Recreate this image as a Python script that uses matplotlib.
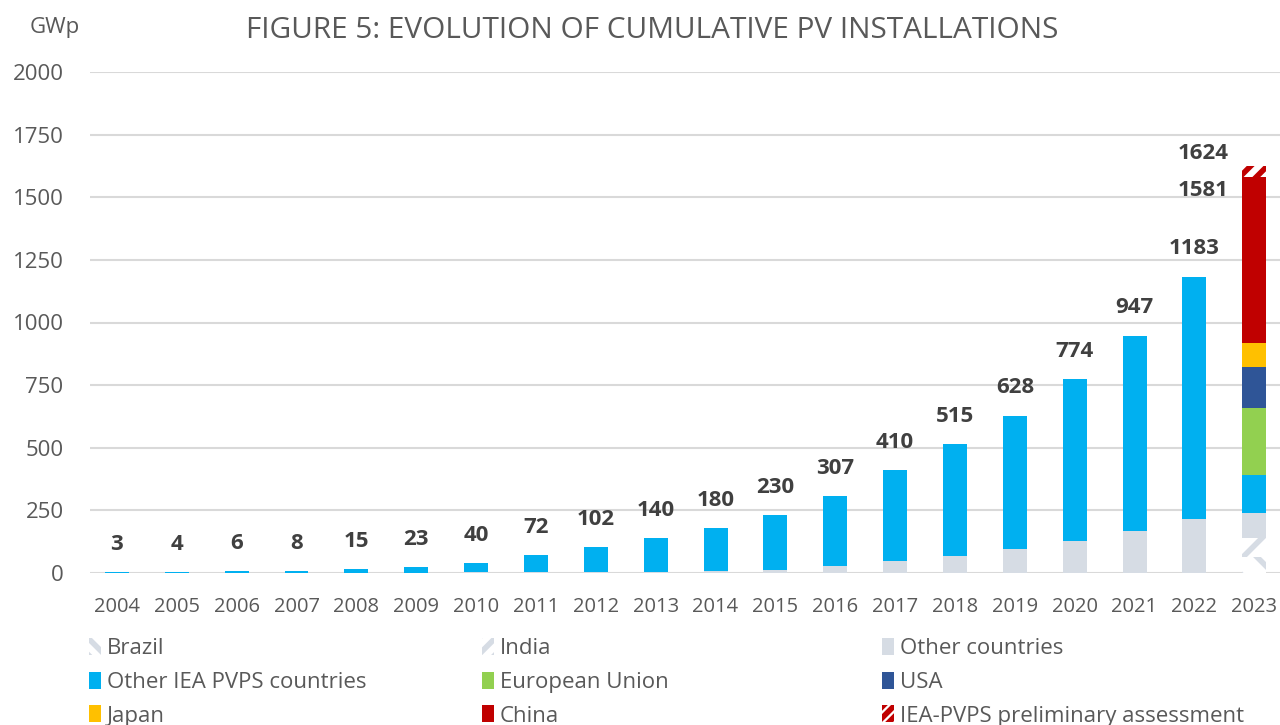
import matplotlib
matplotlib.use("Agg")
import matplotlib.pyplot as plt
from matplotlib.patches import Patch
import numpy as np

plt.rcParams["font.family"] = ["Open Sans", "DejaVu Sans"]
plt.rcParams["hatch.linewidth"] = 4

# --- data (GWp, cumulative) ---
years = [str(y) for y in range(2004, 2024)]
totals = [3, 4, 6, 8, 15, 23, 40, 72, 102, 140, 180, 230, 307, 410, 515, 628, 774, 947, 1183]
other_countries = [0, 0, 0.5, 0.5, 1, 1, 2, 3, 4, 5, 8, 12, 28, 47, 68, 97, 129, 168, 215]

# 2023 split by country group
brazil_23 = 65
india_23 = 75
other_countries_23 = 100
other_iea_23 = 151
eu_23 = 268
usa_23 = 163
japan_23 = 96
china_23 = 663
prelim_23 = 43

C_GREY = "#D6DCE4"
C_BLUE = "#00B0F0"
C_GREEN = "#92D050"
C_USA = "#2F5597"
C_JAPAN = "#FFC000"
C_CHINA = "#C00000"
C_TEXT = "#404040"
C_TICK = "#595959"

fig = plt.figure(figsize=(12.8, 7.25), dpi=100)
ax = fig.add_axes([90 / 1280, 1 - 573 / 725, 1 - 90 / 1280, (573 - 72) / 725])

x = np.arange(len(years))
w = 0.4
hist = x[:-1]
grey = np.array(other_countries)
iea = np.array(totals) - grey

ax.bar(hist, grey, w, color=C_GREY, zorder=2)
ax.bar(hist, iea, w, bottom=grey, color=C_BLUE, zorder=2)

# 2023 stack
i23 = x[-1]
stack_23 = [
    (brazil_23, "white", C_GREY, "\\"),
    (india_23, "white", C_GREY, "/"),
    (other_countries_23, C_GREY, None, None),
    (other_iea_23, C_BLUE, None, None),
    (eu_23, C_GREEN, None, None),
    (usa_23, C_USA, None, None),
    (japan_23, C_JAPAN, None, None),
    (china_23, C_CHINA, None, None),
    (prelim_23, "white", C_CHINA, "//"),
]
bottom = 0
for val, fc, hc, hatch in stack_23:
    if hatch:
        ax.bar(i23, val, w, bottom=bottom, color=fc, edgecolor=hc, hatch=hatch,
               linewidth=0, zorder=2)
    else:
        ax.bar(i23, val, w, bottom=bottom, color=fc, linewidth=0, zorder=2)
    bottom += val
total_23 = bottom - prelim_23
prelim_top = bottom

# value labels
for xi, t in zip(hist, totals):
    ax.annotate(f"{t}", (xi, t), xytext=(0, 20), textcoords="offset points",
                ha="center", va="center", fontsize=16, fontweight="bold", color=C_TEXT)
ax.annotate(f"{prelim_top}", (i23, prelim_top), xytext=(-37, 9), textcoords="offset points",
            ha="center", va="center", fontsize=16, fontweight="bold", color=C_TEXT)
ax.annotate(f"{total_23}", (i23, total_23), xytext=(-37, -10), textcoords="offset points",
            ha="center", va="center", fontsize=16, fontweight="bold", color=C_TEXT)

ax.set_xlim(-0.45, len(years) - 1 + 0.43)
ax.set_ylim(0, 2000)
ax.set_yticks(range(0, 2001, 250))
ax.set_xticks(x)
ax.set_xticklabels(years)
ax.tick_params(axis="y", length=0, pad=19, labelsize=16, labelcolor=C_TICK)
ax.tick_params(axis="x", length=0, pad=17, labelsize=14.5, labelcolor=C_TICK)
ax.grid(axis="y", color="#D9D9D9", lw=1.5, zorder=0)
for s in ax.spines.values():
    s.set_visible(False)

fig.text(30 / 1280, 1 - 28 / 725, "GWp", fontsize=16, color=C_TICK, va="center", ha="left")
fig.text(652 / 1280, 1 - 30 / 725, "FIGURE 5: EVOLUTION OF CUMULATIVE PV INSTALLATIONS",
         fontsize=21.4, color=C_TICK, va="center", ha="center")

# legend, one column at a time
cols = [
    [Patch(facecolor="white", edgecolor=C_GREY, hatch="\\\\", linewidth=0, label="Brazil"),
     Patch(facecolor=C_BLUE, label="Other IEA PVPS countries"),
     Patch(facecolor=C_JAPAN, label="Japan")],
    [Patch(facecolor="white", edgecolor=C_GREY, hatch="//", linewidth=0, label="India"),
     Patch(facecolor=C_GREEN, label="European Union"),
     Patch(facecolor=C_CHINA, label="China")],
    [Patch(facecolor=C_GREY, label="Other countries"),
     Patch(facecolor=C_USA, label="USA"),
     Patch(facecolor="white", edgecolor=C_CHINA, hatch="///", linewidth=0,
           label="IEA-PVPS preliminary assessment")],
]
col_x = [89, 482, 882]
for hs, cx in zip(cols, col_x):
    leg = fig.legend(handles=hs, loc="upper left", bbox_to_anchor=(cx / 1280, 1 - 638 / 725),
                     frameon=False, fontsize=16, handlelength=0.55, handleheight=0.8,
                     handletextpad=0.25, labelspacing=0.56, borderpad=0, borderaxespad=0)
    for t in leg.get_texts():
        t.set_color(C_TICK)

fig.savefig("out.png", dpi=100)
